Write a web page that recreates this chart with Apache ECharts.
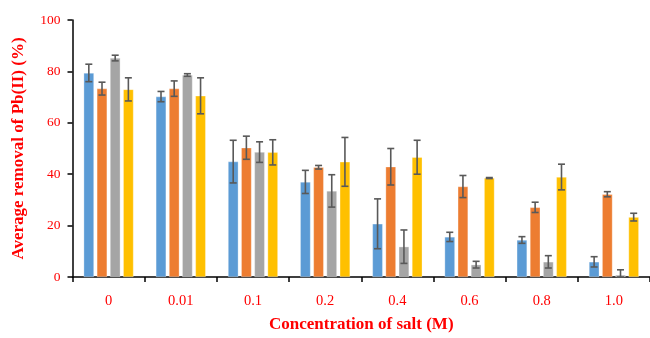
<!DOCTYPE html>
<html>
<head>
<meta charset="utf-8">
<script src="https://cdn.jsdelivr.net/npm/echarts@6/dist/echarts.min.js"></script>
<style>html,body{margin:0;padding:0;background:#fff}#c{width:650px;height:338px}</style>
</head>
<body>
<div id="c"></div>
<script>
var categories = ['0','0.01','0.1','0.2','0.4','0.6','0.8','1.0'];
var yTicks = [0, 20, 40, 60, 80, 100];
var blueVals = [79.4, 70.2, 44.9, 37.0, 20.7, 15.6, 14.4, 5.9];
var blueErr  = [3.4, 2.0, 8.3, 4.5, 9.7, 1.8, 1.3, 2.0];
var orangeVals = [73.3, 73.3, 50.3, 42.7, 42.9, 35.2, 27.1, 32.2];
var orangeErr  = [2.5, 3.0, 4.5, 0.7, 7.1, 4.3, 2.0, 1.0];
var grayVals = [85.2, 78.6, 48.6, 33.5, 11.8, 4.8, 5.9, 0.8];
var grayErr  = [1.1, 0.5, 4.0, 6.3, 6.5, 1.3, 2.4, 2.0];
var yellowVals = [73.0, 70.5, 48.5, 44.8, 46.6, 38.5, 38.9, 23.3];
var yellowErr  = [4.5, 7.0, 4.9, 9.5, 6.6, 0.2, 5.0, 1.5];

var seriesVals = [blueVals, orangeVals, grayVals, yellowVals];
var seriesErrs = [blueErr, orangeErr, grayErr, yellowErr];
var colors = ['#5B9BD5', '#ED7D31', '#A5A5A5', '#FFC000'];
var BAR_W = 10.3, BAR_GAP = 0.28;
var FONT = '"Liberation Serif", "Times New Roman", serif';

var series = [];
seriesVals.forEach(function (vals, i) {
  series.push({
    type: 'bar', data: vals, barWidth: BAR_W, barGap: (BAR_GAP * 100) + '%',
    itemStyle: { color: colors[i], borderColor: 'rgba(255,255,255,0.6)', borderWidth: 0.5 },
    z: 2
  });
});
seriesVals.forEach(function (vals, i) {
  var errs = seriesErrs[i];
  var data = vals.map(function (v, k) { return [k, Math.max(0, v - errs[k]), v + errs[k]]; });
  var offset = (i - 1.5) * BAR_W * (1 + BAR_GAP);
  series.push({
    type: 'custom', data: data, z: 5, silent: true,
    renderItem: function (params, api) {
      var lo = api.coord([api.value(0), api.value(1)]);
      var hi = api.coord([api.value(0), api.value(2)]);
      var x = lo[0] + offset, cw = 3.5;
      var st = { stroke: '#595959', lineWidth: 1.6 };
      return { type: 'group', children: [
        { type: 'line', shape: { x1: x, y1: hi[1], x2: x, y2: lo[1] }, style: st },
        { type: 'line', shape: { x1: x - cw, y1: hi[1], x2: x + cw, y2: hi[1] }, style: st },
        { type: 'line', shape: { x1: x - cw, y1: lo[1], x2: x + cw, y2: lo[1] }, style: st }
      ]};
    }
  });
});

var chart = echarts.init(document.getElementById('c'));
chart.setOption({
  animation: false,
  backgroundColor: '#fff',
  grid: { left: 72.5, right: -2.5, top: 20, bottom: 56, containLabel: false },
  xAxis: {
    type: 'category', data: categories,
    axisLine: { lineStyle: { color: '#000', width: 1.5 } },
    axisTick: { show: true, length: 5, lineStyle: { color: '#000', width: 1.5 } },
    axisLabel: { color: '#FF0000', fontFamily: FONT, fontSize: 14.5, margin: 17 },
    name: 'Concentration of salt (M)', nameLocation: 'middle', nameGap: 39,
    nameTextStyle: { color: '#FF0000', fontFamily: FONT, fontSize: 17, fontWeight: 'bold' }
  },
  yAxis: {
    type: 'value', min: yTicks[0], max: yTicks[yTicks.length - 1], interval: 20,
    splitLine: { show: false },
    axisLine: { show: true, lineStyle: { color: '#000', width: 1.5 } },
    axisTick: { show: true, length: 5, lineStyle: { color: '#000', width: 1.5 } },
    axisLabel: { color: '#FF0000', fontFamily: FONT, fontSize: 13.5, margin: 12 },
    name: 'Average removal of Pb(II) (%)', nameLocation: 'middle', nameGap: 45,
    nameTextStyle: { color: '#FF0000', fontFamily: FONT, fontSize: 17, fontWeight: 'bold' }
  },
  series: series
});
</script>
</body>
</html>
